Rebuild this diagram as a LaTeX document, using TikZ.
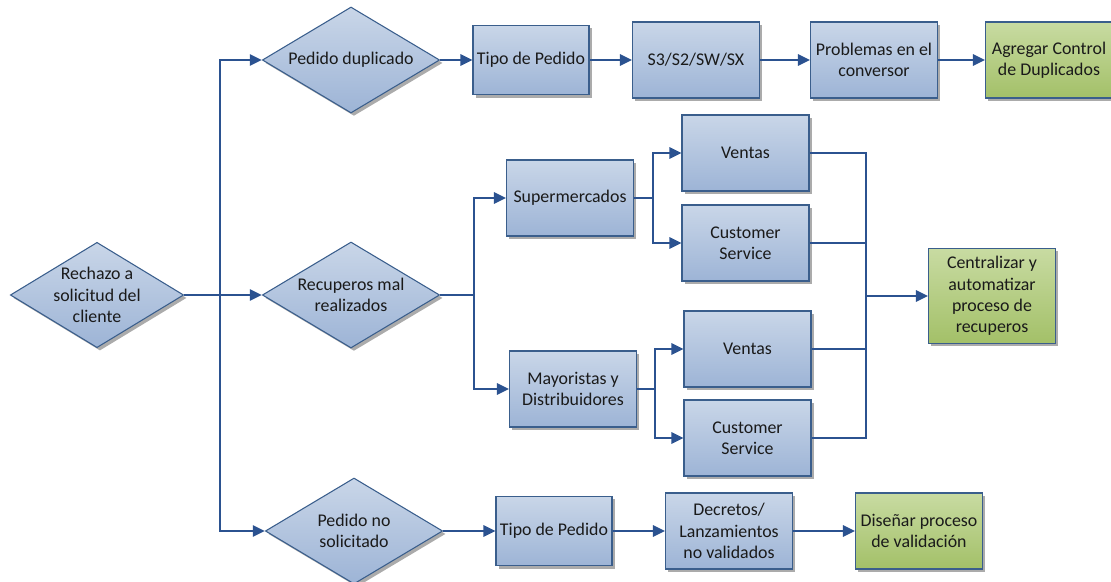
\documentclass[tikz,border=0pt]{standalone}
\usepackage{fontspec}
\setmainfont{Carlito}
\usetikzlibrary{shapes.geometric,arrows.meta,shadows}
\definecolor{edgeblue}{HTML}{3A5E8C}
\definecolor{lineblue}{HTML}{2B5290}
\definecolor{boxtop}{HTML}{C9D6E8}
\definecolor{boxbot}{HTML}{9DB4D6}
\definecolor{greentop}{HTML}{C8DBA2}
\definecolor{greenbot}{HTML}{A3C068}
\definecolor{ink}{HTML}{1A1A1A}
\tikzset{
  txt/.style={font=\fontsize{13.4}{16}\selectfont, text=ink, align=center},
  shade/.style={drop shadow={shadow xshift=2.2pt, shadow yshift=-2.2pt, fill=black!55, opacity=0.6}},
  bluebox/.style={txt, shape=rectangle, draw=edgeblue, line width=0.8pt, top color=boxtop, bottom color=boxbot,
    shade, inner sep=2pt, minimum width=95.25pt, minimum height=57pt},
  smallbox/.style={bluebox, minimum width=87pt, minimum height=52pt},
  greenbox/.style={bluebox, top color=greentop, bottom color=greenbot},
  decision/.style={shape=diamond, draw=edgeblue, line width=0.8pt, top color=boxtop, bottom color=boxbot,
    shade, inner sep=0pt, minimum width=133pt, minimum height=79.5pt},
  lbl/.style={txt, inner sep=0pt},
  link/.style={draw=lineblue, line width=1.5pt},
  thin link/.style={draw=lineblue, line width=1.1pt},
  arrow/.style={link, -{Triangle[length=9pt, width=8.5pt]}},
}
\begin{document}
\begin{tikzpicture}[x=0.75pt, y=-0.75pt]
\useasboundingbox (0,0) rectangle (1111,582);

% decisions
\node[decision, minimum width=130pt, minimum height=79pt] (rech) at (97,295) {};
\node[lbl] (rechT) at (rech) {Rechazo a\\solicitud del\\cliente};
\node[decision] (dup) at (351,60) {};
\node[lbl] (dupT) at (dup) {Pedido duplicado};
\node[decision] (rec) at (351,295) {};
\node[lbl] (recT) at (rec) {Recuperos mal\\realizados};
\node[decision] (nos) at (354,531) {};
\node[lbl] (nosT) at (nos) {Pedido no\\solicitado};

% top row
\node[smallbox] (tipo1) at (531,60) {Tipo de Pedido};
\node[bluebox] (s3) at (696,60) {S3/S2/SW/SX};
\node[bluebox] (prob) at (874,60) {Problemas en el\\conversor};
\node[greenbox] (agr) at (1049,60) {Agregar Control\\de Duplicados};

% middle block
\node[bluebox] (sup) at (570,198) {Supermercados};
\node[bluebox] (v1) at (745.5,153) {Ventas};
\node[bluebox] (cs1) at (745.5,243) {Customer\\Service};
\node[bluebox] (may) at (573,389) {Mayoristas y\\Distribuidores};
\node[bluebox] (v2) at (747.5,349) {Ventas};
\node[bluebox] (cs2) at (747.5,438) {Customer\\Service};
\node[greenbox, minimum height=71.25pt] (cen) at (992,296) {Centralizar y\\automatizar\\proceso de\\recuperos};

% bottom row
\node[smallbox] (tipo2) at (554,531) {Tipo de Pedido};
\node[bluebox] (dec) at (729,531) {Decretos/\\Lanzamientos\\no validados};
\node[greenbox] (dis) at (919,531) {Diseñar proceso\\de validación};

% junction points
\coordinate (j1) at (220,295);
\coordinate (j2) at (474,295);
\coordinate (j3) at (653,198);
\coordinate (j4) at (655,389);
\coordinate (m) at (866,296);

% trunk from the first decision
\draw[link] (rech.east) -- (j1);
\draw[arrow] (j1) |- (dup.west);
\draw[arrow] (j1) -- (rec.west);
\draw[arrow] (j1) |- (nos.west);

% duplicated orders
\draw[arrow] (dup.east) -- (tipo1.west);
\draw[arrow] (tipo1.east) -- (s3.west);
\draw[arrow] (s3.east) -- (prob.west);
\draw[arrow] (prob.east) -- (agr.west);

% recoveries
\draw[link] (rec.east) -- (j2);
\draw[arrow] (j2) |- (sup.west);
\draw[arrow] (j2) |- (may.west);
\draw[link] (sup.east) -- (j3);
\draw[arrow] (j3) |- (v1.west);
\draw[arrow] (j3) |- (cs1.west);
\draw[link] (may.east) -- (j4);
\draw[arrow] (j4) |- (v2.west);
\draw[arrow] (j4) |- (cs2.west);
\draw[thin link] (v1.east) -| (m);
\draw[thin link] (cs1.east) -| (m);
\draw[thin link] (v2.east) -| (m);
\draw[thin link] (cs2.east) -| (m);
\draw[arrow] (m) -- (cen.west);

% unrequested orders
\draw[arrow] (nos.east) -- (tipo2.west);
\draw[arrow] (tipo2.east) -- (dec.west);
\draw[arrow] (dec.east) -- (dis.west);
\end{tikzpicture}
\end{document}
